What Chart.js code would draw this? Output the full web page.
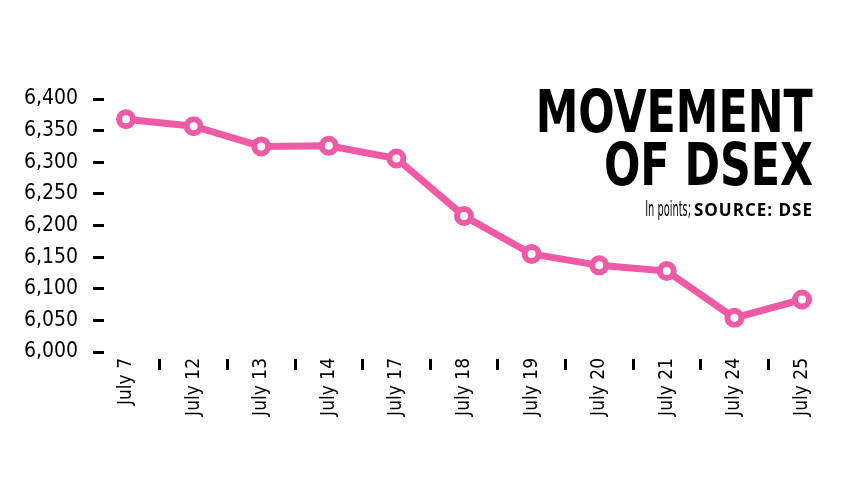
<!DOCTYPE html>
<html>
<head>
<meta charset="utf-8">
<script src="https://cdn.jsdelivr.net/npm/chart.js@4.4.0/dist/chart.umd.min.js"></script>
<style>
	html, body { margin: 0; padding: 0; background: #fff; }
	#wrap { position: relative; width: 857px; height: 482px; }
	.title {
		position: absolute;
		right: 44px;
		font-family: "DejaVu Sans Condensed", "DejaVu Sans", sans-serif;
		font-weight: bold;
		font-size: 58px;
		line-height: 58px;
		color: #000;
		white-space: nowrap;
		transform: scaleX(0.82);
		transform-origin: right center;
	}
	.sub {
		position: absolute;
		right: 44px;
		top: 199px;
		font-size: 19px;
		line-height: 20px;
		color: #000;
		white-space: nowrap;
	}
	.sub span {
		display: inline-block;
		font-family: "DejaVu Sans Condensed", "DejaVu Sans", sans-serif;
		font-size: 21px;
		transform: scaleX(0.52);
		transform-origin: right center;
		margin-right: 3px;
	}
	.sub b {
		font-family: "Open Sans", sans-serif;
		font-size: 17px;
		letter-spacing: 1px;
	}
</style>
</head>
<body>
<div id="wrap">
	<canvas id="dsex-canvas" width="857" height="482"></canvas>
	<div class="title" style="top:83px">MOVEMENT</div>
	<div class="title" style="top:136px">OF DSEX</div>
	<div class="sub"><span>In points;</span><b>SOURCE: DSE</b></div>
</div>
<script>
const DAYS = ["July 7", "July 12", "July 13", "July 14", "July 17", "July 18",
	"July 19", "July 20", "July 21", "July 24", "July 25"];
const DSEX = [6368, 6357, 6325, 6326, 6306, 6215, 6155, 6137, 6128, 6054, 6083];
const Y_MIN = 6000;
const Y_MAX = 6400;
const Y_STEP = 50;
const PINK = "#ee5aa5";
const AXIS_FONT = { family: "'DejaVu Sans Condensed', 'DejaVu Sans', sans-serif", size: 21 };

const config = {
	type: "line",
	data: {
		labels: DAYS,
		datasets: [
			{
				label: "DSEX",
				data: DSEX,
				borderColor: PINK,
				borderWidth: 7,
				pointRadius: 7,
				pointBorderWidth: 6,
				pointBackgroundColor: "#fff",
				pointBorderColor: PINK,
				tension: 0,
				clip: false,
			},
		],
	},
	options: {
		responsive: false,
		animation: false,
		layout: {
			padding: { left: 0, right: 55, top: 99, bottom: 0 },
		},
		plugins: {
			legend: { display: false },
			tooltip: { enabled: false },
		},
		scales: {
			x: {
				offset: false,
				border: { display: false },
				grid: {
					offset: true,
					drawOnChartArea: false,
					tickLength: 18,
					tickWidth: 3,
					tickColor: "#000",
					tickBorderDash: [11, 100],
					tickBorderDashOffset: 104,
				},
				ticks: {
					color: "#000",
					font: { family: AXIS_FONT.family, size: 19 },
					minRotation: 90,
					maxRotation: 90,
					autoSkip: false,
					padding: -12,
				},
				afterFit: (scale) => {
					scale.height = 130;
				},
			},
			y: {
				min: Y_MIN,
				max: Y_MAX,
				border: { display: false },
				grid: {
					drawOnChartArea: false,
					tickLength: 33,
					tickWidth: 3,
					tickColor: "#000",
					tickBorderDash: [11, 100],
				},
				ticks: {
					stepSize: Y_STEP,
					color: "#000",
					font: AXIS_FONT,
					padding: 15,
					callback: (value) => value.toLocaleString("en-US"),
				},
				afterFit: (scale) => {
					scale.width = 126;
				},
			},
		},
	},
};

new Chart(document.getElementById("dsex-canvas"), config);
</script>
</body>
</html>
